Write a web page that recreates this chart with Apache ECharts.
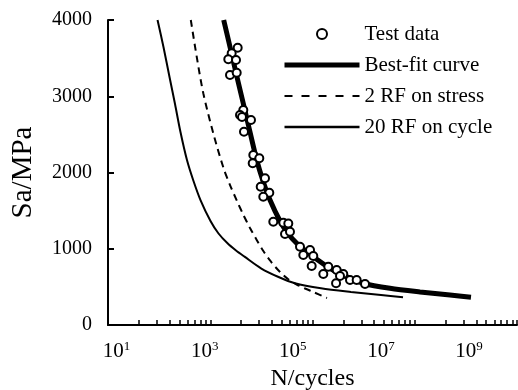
<!DOCTYPE html>
<html>
<head>
<meta charset="utf-8">
<script src="https://cdn.jsdelivr.net/npm/echarts@6/dist/echarts.min.js"></script>
<style>
  html, body { margin: 0; padding: 0; background: #fff; }
  #chart { width: 518px; height: 390px; }
</style>
</head>
<body>
<div id="chart"></div>
<script>
// Fatigue test results: stress amplitude Sa (MPa) against cycles to failure N
const testN = [5610, 4100, 3435, 5140, 3755, 5330, 7530, 6335, 7030, 11250, 7800,
  12700, 17380, 12300, 23400, 18700, 29300, 21400, 36100, 60900, 79100, 66600, 86400,
  145800, 173300, 246000, 292000, 268500, 640000, 493000, 993000, 1400000, 1180000,
  1990000, 960000, 2820000, 4360000];
const testS = [3637, 3563, 3485, 3475, 3279, 3309, 2820, 2754, 2728, 2689, 2535,
  2230, 2186, 2121, 1924, 1814, 1735, 1683, 1355, 1342, 1330, 1193, 1224,
  1027, 918, 984, 905, 774, 765, 669, 721, 669, 643,
  590, 547, 590, 538];

// Best-fit S-N curve
const fitN = [2700, 3760, 5410, 7570, 10690, 15170, 21080, 30400, 51300, 77800, 122700,
  189300, 292000, 700000, 1675000, 3990000, 16100000, 77300000, 371000000, 1110000000];
const fitS = [4000, 3646, 3253, 2898, 2531, 2164, 1889, 1639, 1364, 1200, 1071,
  977, 896, 744, 633, 547, 481, 433, 393, 363];

// Design curve: reduction factor 2 on stress
const rfStressN = [484, 659, 930, 1567, 2673, 3760, 5410, 7570, 10690, 15170, 21080,
  30400, 51300, 77800, 122700, 189300, 292000, 598000];
const rfStressS = [4000, 3519, 3039, 2514, 2059, 1836, 1626, 1443, 1272, 1115, 977,
  846, 695, 603, 531, 479, 433, 354];

// Design curve: reduction factor 20 on cycles
const rfCycleN = [85, 116, 159, 212, 282, 396, 557, 803, 1355, 2060, 3300, 5140, 8010,
  18970, 46100, 112200, 436500, 2090000, 10070000, 31800000];
const rfCycleS = [4000, 3646, 3253, 2898, 2531, 2164, 1889, 1639, 1364, 1200, 1071, 977, 896,
  744, 633, 547, 481, 433, 393, 363];

// Axis settings
const xLabelExponents = [1, 3, 5, 7, 9];
const yTicks = [0, 1000, 2000, 3000, 4000];
const seriesNames = ['Test data', 'Best-fit curve', '2 RF on stress', '20 RF on cycle'];

const zip = (xs, ys) => xs.map((x, i) => [x, ys[i]]);
const serif = '"Liberation Serif", "Times New Roman", serif';
const hiddenSymbol = { opacity: 0 };

const chart = echarts.init(document.getElementById('chart'), null, { renderer: 'canvas' });

chart.setOption({
  animation: false,
  backgroundColor: '#fff',
  grid: { left: 108, right: 1, top: 20, bottom: 65, containLabel: false, outerBoundsMode: 'none' },
  legend: {
    orient: 'vertical',
    left: 282,
    top: 23,
    padding: 0,
    itemWidth: 75,
    itemHeight: 10,
    itemGap: 9,
    selectedMode: false,
    data: [
      { name: seriesNames[0] },
      { name: seriesNames[1], itemStyle: hiddenSymbol, lineStyle: { width: 5 } },
      { name: seriesNames[2], itemStyle: hiddenSymbol, lineStyle: { width: 2, type: [8, 9] } },
      { name: seriesNames[3], itemStyle: hiddenSymbol, lineStyle: { width: 2.5 } }
    ],
    textStyle: { fontFamily: serif, fontSize: 21, color: '#000', lineHeight: 22 }
  },
  xAxis: [
    {
      // labelled log axis, N in cycles
      type: 'log',
      logBase: 10,
      position: 'bottom',
      min: Math.pow(10, 0.805),
      max: Math.pow(10, 10.09),
      name: 'N/cycles',
      nameLocation: 'middle',
      nameGap: 42,
      nameTextStyle: { fontFamily: serif, fontSize: 24, color: '#000' },
      axisLine: { show: true, lineStyle: { color: '#000', width: 2 } },
      axisTick: { show: false },
      splitLine: { show: false },
      axisLabel: {
        margin: 15,
        formatter: (v) => {
          const lg = Math.log10(v);
          const e = Math.round(lg);
          if (Math.abs(lg - e) > 1e-6 || xLabelExponents.indexOf(e) < 0) return '';
          return '{b|10}{s|' + e + '}';
        },
        rich: {
          b: { fontFamily: serif, fontSize: 21, color: '#000', lineHeight: 22, verticalAlign: 'bottom' },
          s: { fontFamily: serif, fontSize: 13, color: '#000', lineHeight: 14, verticalAlign: 'top' }
        }
      }
    },
    {
      // tick ruler along the bottom edge: decades with minor ticks at 2..9
      type: 'log',
      logBase: 10,
      position: 'bottom',
      min: 1,
      max: 10000,
      axisLine: { show: false },
      axisLabel: { show: false },
      splitLine: { show: false },
      axisTick: { show: true, inside: true, length: 5, lineStyle: { color: '#000', width: 1.5 } },
      minorTick: { show: true, splitNumber: 9, length: 5, lineStyle: { color: '#000', width: 1.5 } },
      minorSplitLine: { show: false }
    }
  ],
  yAxis: {
    type: 'value',
    min: yTicks[0],
    max: yTicks[yTicks.length - 1],
    interval: yTicks[1] - yTicks[0],
    name: 'Sa/MPa',
    nameLocation: 'middle',
    nameGap: 70,
    nameTextStyle: { fontFamily: serif, fontSize: 29, color: '#000' },
    axisLine: { show: true, lineStyle: { color: '#000', width: 2 } },
    axisTick: { show: true, inside: true, length: 6, lineStyle: { color: '#000', width: 2 } },
    splitLine: { show: false },
    axisLabel: {
      margin: 16, fontFamily: serif, fontSize: 20, color: '#000',
      formatter: (v) => String(v)
    }
  },
  series: [
    {
      name: seriesNames[1],
      type: 'line',
      xAxisIndex: 0,
      data: zip(fitN, fitS),
      symbol: 'none',
      smooth: 0.3,
      z: 3,
      color: '#000',
      lineStyle: { color: '#000', width: 5 }
    },
    {
      name: seriesNames[2],
      type: 'line',
      xAxisIndex: 0,
      data: zip(rfStressN, rfStressS),
      symbol: 'none',
      smooth: 0.3,
      z: 2,
      color: '#000',
      lineStyle: { color: '#000', width: 2, type: [7, 5] }
    },
    {
      name: seriesNames[3],
      type: 'line',
      xAxisIndex: 0,
      data: zip(rfCycleN, rfCycleS),
      symbol: 'none',
      smooth: 0.3,
      z: 2,
      color: '#000',
      lineStyle: { color: '#000', width: 2 }
    },
    {
      name: seriesNames[0],
      type: 'scatter',
      xAxisIndex: 0,
      data: zip(testN, testS),
      symbol: 'circle',
      symbolSize: 8,
      z: 4,
      itemStyle: { color: '#fff', borderColor: '#000', borderWidth: 2, opacity: 1 }
    }
  ]
});
</script>
</body>
</html>
